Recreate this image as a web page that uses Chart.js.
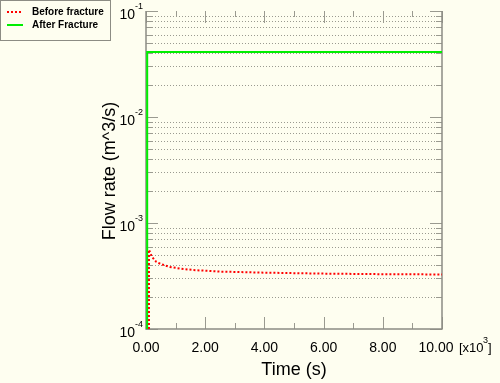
<!DOCTYPE html>
<html>
<head>
<meta charset="utf-8">
<script src="https://cdn.jsdelivr.net/npm/chart.js@4"></script>
<style>
  html, body { margin: 0; padding: 0; background: #fefef0; }
  #wrap { width: 500px; height: 383px; position: relative; }
</style>
</head>
<body>
<div id="wrap"><canvas id="myChart" width="500" height="383"></canvas></div>
<script>
// time in seconds, flow rate in m^3/s
const timeBefore = [100, 100, 200, 350, 500, 800, 1200, 1600, 2500, 4000, 6000, 8000, 10000]
const rateBefore = [1e-4, 5.6e-4, 4.8e-4, 4.3e-4, 4.1e-4, 3.85e-4, 3.7e-4, 3.6e-4, 3.48e-4, 3.4e-4, 3.33e-4, 3.29e-4, 3.27e-4]
const timeAfter = [40, 40, 10000]
const rateAfter = [1e-4, 0.041, 0.041]

const yDecades = [1e-4, 1e-3, 1e-2, 1e-1]
const yExponents = ['-4', '-3', '-2', '-1']
const xMajor = [0, 2000, 4000, 6000, 8000, 10000]
const xMinor = [1000, 3000, 5000, 7000, 9000]
const labels = ['Before fracture', 'After Fracture']

const font = '"Liberation Sans", Arial, sans-serif'

const yMinor = []
yDecades.slice(0, 3).forEach(d => {
  for (let k = 2; k <= 9; k++) yMinor.push(+(d * k).toPrecision(3))
})

const frame = {
  id: 'frame',
  beforeDatasetsDraw(chart) {
    const { ctx, chartArea: a, scales: { x, y } } = chart
    ctx.save()
    // dotted grid at minor log values
    ctx.strokeStyle = '#9a9a90'
    ctx.lineWidth = 1
    yMinor.forEach(v => {
      const py = Math.round(y.getPixelForValue(v)) + 0.5
      ctx.setLineDash([1, 2])
      ctx.beginPath(); ctx.moveTo(a.left + 6, py); ctx.lineTo(a.right - 6, py); ctx.stroke()
      ctx.setLineDash([])
      ctx.beginPath(); ctx.moveTo(a.left, py); ctx.lineTo(a.left + 6, py)
      ctx.moveTo(a.right - 6, py); ctx.lineTo(a.right, py); ctx.stroke()
    })
    yDecades.forEach(v => {
      const py = Math.round(y.getPixelForValue(v)) + 0.5
      ctx.beginPath(); ctx.moveTo(a.left, py); ctx.lineTo(a.left + 12, py)
      ctx.moveTo(a.right - 12, py); ctx.lineTo(a.right, py); ctx.stroke()
    })
    xMajor.concat(xMinor).forEach(v => {
      const px = Math.round(x.getPixelForValue(v)) + 0.5
      const len = xMajor.includes(v) ? 12 : 6
      ctx.beginPath(); ctx.moveTo(px, a.bottom); ctx.lineTo(px, a.bottom - len)
      ctx.moveTo(px, a.top); ctx.lineTo(px, a.top + len); ctx.stroke()
    })
    // axes border
    ctx.strokeStyle = '#8c8c84'
    ctx.lineWidth = 1.5
    ctx.beginPath()
    ctx.moveTo(a.left, a.top); ctx.lineTo(a.left, a.bottom)
    ctx.lineTo(a.right, a.bottom); ctx.lineTo(a.right, a.top)
    ctx.stroke()
    ctx.restore()
  },
  afterDraw(chart) {
    const { ctx, scales: { x, y } } = chart
    ctx.save()
    ctx.fillStyle = '#000'
    // y tick labels 10^n
    yDecades.forEach((v, i) => {
      const py = y.getPixelForValue(v)
      ctx.font = '14px ' + font
      ctx.textAlign = 'right'; ctx.textBaseline = 'middle'
      ctx.fillText('10', 135, py + 4)
      ctx.font = '9px ' + font
      ctx.textAlign = 'left'
      ctx.fillText(yExponents[i], 135, py - 4)
    })
    // x tick labels
    ctx.font = '14px ' + font
    ctx.textAlign = 'center'; ctx.textBaseline = 'middle'
    xMajor.forEach((v, i) => {
      const px = x.getPixelForValue(v) - (i === xMajor.length - 1 ? 6 : 0)
      ctx.fillText((v / 1000).toFixed(2), px, 348)
    })
    // multiplier
    ctx.font = '13px ' + font
    ctx.textAlign = 'left'
    ctx.fillText('[x10', 459, 348)
    ctx.font = '9px ' + font
    ctx.fillText('3', 483, 341)
    ctx.font = '13px ' + font
    ctx.fillText(']', 488, 348)
    // axis titles
    ctx.font = '18px ' + font
    ctx.textAlign = 'center'
    ctx.fillText('Time (s)', 294, 370)
    ctx.translate(110, 171)
    ctx.rotate(-Math.PI / 2)
    ctx.fillText('Flow rate (m^3/s)', 0, 0)
    ctx.restore()

    // legend box
    ctx.save()
    ctx.fillStyle = '#fefef0'
    ctx.fillRect(0, 0, 111, 40)
    ctx.strokeStyle = '#8c8c84'
    ctx.lineWidth = 1
    ctx.strokeRect(0.5, 0.5, 110, 40)
    ctx.lineWidth = 2
    ctx.strokeStyle = '#ff0000'
    ctx.setLineDash([2, 2])
    ctx.beginPath(); ctx.moveTo(7, 12); ctx.lineTo(23, 12); ctx.stroke()
    ctx.setLineDash([])
    ctx.strokeStyle = '#00ee00'
    ctx.beginPath(); ctx.moveTo(7, 25); ctx.lineTo(23, 25); ctx.stroke()
    ctx.fillStyle = '#000'
    ctx.font = 'bold 10px ' + font
    ctx.textAlign = 'left'; ctx.textBaseline = 'middle'
    ctx.fillText(labels[0], 32, 12.5)
    ctx.fillText(labels[1], 32, 25.5)
    ctx.restore()
  }
}

const ctx = document.getElementById('myChart')

new Chart(ctx, {
  type: 'line',
  data: {
    datasets: [{
      label: labels[0],
      data: timeBefore.map((t, i) => ({ x: t, y: rateBefore[i] })),
      borderColor: '#ff0000',
      borderWidth: 2,
      borderDash: [2, 2],
      pointRadius: 0,
      tension: 0
    }, {
      label: labels[1],
      data: timeAfter.map((t, i) => ({ x: t, y: rateAfter[i] })),
      borderColor: '#00ee00',
      borderWidth: 2,
      pointRadius: 0,
      tension: 0
    }]
  },
  options: {
    responsive: false,
    animation: false,
    layout: { padding: { left: 0, right: 58, top: 11, bottom: 0 } },
    plugins: { legend: { display: false }, tooltip: { enabled: false } },
    scales: {
      x: {
        type: 'linear',
        min: 0,
        max: 10000,
        afterFit: s => { s.height = 54 },
        grid: { display: false, drawTicks: false },
        border: { display: false },
        ticks: { display: false }
      },
      y: {
        type: 'logarithmic',
        min: 1e-4,
        max: 1e-1,
        afterFit: s => { s.width = 146 },
        grid: { display: false, drawTicks: false },
        border: { display: false },
        ticks: { display: false }
      }
    }
  },
  plugins: [frame]
})
</script>
</body>
</html>
